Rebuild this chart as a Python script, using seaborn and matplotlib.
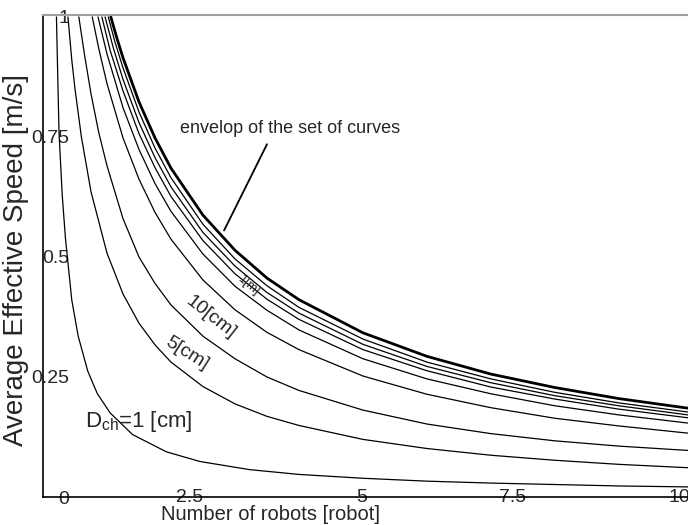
import numpy as np
import pandas as pd
import seaborn as sns
import matplotlib.pyplot as plt
from matplotlib.ticker import MultipleLocator
from matplotlib.transforms import ScaledTranslation

# values, one list pair per curve (bottom to top)
c1_x = [0.21, 0.25, 0.30, 0.35, 0.45, 0.55, 0.70, 0.85, 1.05, 1.40, 1.93, 2.45, 3.23,
        4.00, 5.00, 6.00, 7.00, 8.00, 9.00, 10.08]
c1_v = [1.00, 0.76, 0.63, 0.54, 0.41, 0.335, 0.262, 0.215, 0.175, 0.13, 0.094, 0.074, 0.057,
        0.047, 0.039, 0.033, 0.029, 0.026, 0.023, 0.021]
c2_x = [0.39, 0.45, 0.50, 0.60, 0.75, 1.00, 1.25, 1.50, 1.75, 2.00, 2.50, 3.00, 3.50,
        4.00, 5.00, 6.00, 7.00, 8.00, 9.00, 10.08]
c2_v = [1.00, 0.91, 0.85, 0.75, 0.636, 0.508, 0.423, 0.362, 0.317, 0.281, 0.23, 0.194, 0.168,
        0.149, 0.12, 0.101, 0.087, 0.0765, 0.068, 0.061]
c3_x = [0.56, 0.65, 0.75, 0.87, 1.00, 1.25, 1.50, 1.75, 2.00, 2.50, 3.00, 3.50,
        4.00, 5.00, 6.00, 7.00, 8.00, 9.00, 10.08]
c3_v = [1.00, 0.92, 0.84, 0.76, 0.69, 0.58, 0.50, 0.445, 0.40, 0.335, 0.288, 0.25,
        0.222, 0.181, 0.152, 0.132, 0.117, 0.106, 0.097]
c4_x = [0.77, 0.87, 1.00, 1.25, 1.50, 1.75, 2.00, 2.50, 3.00, 3.50,
        4.00, 5.00, 6.00, 7.00, 8.00, 9.00, 10.08]
c4_v = [1.00, 0.935, 0.861, 0.748, 0.662, 0.593, 0.537, 0.452, 0.39, 0.343,
        0.307, 0.252, 0.214, 0.186, 0.164, 0.148, 0.133]
c5_x = [0.86, 1.00, 1.25, 1.50, 1.75, 2.00, 2.50, 3.00, 3.50,
        4.00, 5.00, 6.00, 7.00, 8.00, 9.00, 10.08]
c5_v = [1.00, 0.923, 0.811, 0.724, 0.653, 0.595, 0.506, 0.439, 0.389,
        0.348, 0.288, 0.246, 0.215, 0.19, 0.171, 0.154]
c6_x = [0.92, 1.05, 1.25, 1.50, 1.75, 2.00, 2.50, 3.00, 3.50,
        4.00, 5.00, 6.00, 7.00, 8.00, 9.00, 10.08]
c6_v = [1.00, 0.93, 0.846, 0.757, 0.686, 0.626, 0.534, 0.465, 0.412,
        0.37, 0.307, 0.263, 0.229, 0.204, 0.183, 0.165]
c7_x = [0.97, 1.10, 1.25, 1.50, 1.75, 2.00, 2.50, 3.00, 3.50,
        4.00, 5.00, 6.00, 7.00, 8.00, 9.00, 10.08]
c7_v = [1.00, 0.935, 0.87, 0.78, 0.707, 0.646, 0.551, 0.481, 0.426,
        0.383, 0.318, 0.272, 0.238, 0.211, 0.19, 0.171]
c8_x = [1.02, 1.12, 1.25, 1.50, 1.75, 2.00, 2.50, 3.00, 3.50,
        4.00, 5.00, 6.00, 7.00, 8.00, 9.00, 10.08]
c8_v = [1.00, 0.95, 0.894, 0.802, 0.727, 0.665, 0.568, 0.496, 0.44,
        0.395, 0.329, 0.281, 0.246, 0.218, 0.196, 0.177]
env_x = [1.06, 1.15, 1.25, 1.50, 1.75, 2.00, 2.50, 3.00, 3.50,
         4.00, 5.00, 6.00, 7.00, 8.00, 9.00, 10.08]
env_v = [1.00, 0.958, 0.915, 0.823, 0.748, 0.685, 0.587, 0.514, 0.456,
         0.411, 0.342, 0.293, 0.256, 0.228, 0.205, 0.185]

x_ticks = [2.5, 5, 7.5, 10]
x_tick_labels = ['2.5', '5', '7.5', '10']
y_ticks = [0, 0.25, 0.5, 0.75, 1]
y_tick_labels = ['0', '0.25', '0.5', '0.75', '1']

curves = [(c1_x, c1_v), (c2_x, c2_v), (c3_x, c3_v), (c4_x, c4_v),
          (c5_x, c5_v), (c6_x, c6_v), (c7_x, c7_v), (c8_x, c8_v)]
rows = []
for k, (xs, vs) in enumerate(curves):
    for a, b in zip(xs, vs):
        rows.append({'N': a, 'v': b, 'curve': k})
df = pd.DataFrame(rows)
df_env = pd.DataFrame({'N': env_x, 'v': env_v})

sns.set_style('white')
plt.rcParams['font.family'] = ['Liberation Sans', 'DejaVu Sans']
plt.rcParams['mathtext.fontset'] = 'custom'
plt.rcParams['mathtext.rm'] = 'Liberation Sans'

fig = plt.figure(figsize=(6.88, 5.25), dpi=100)
ax = fig.add_axes([43 / 688, 28 / 525, 645 / 688, 482 / 525])

sns.lineplot(data=df, x='N', y='v', units='curve', estimator=None, sort=False,
             color='black', lw=0.9, ax=ax)
sns.lineplot(data=df_env, x='N', y='v', estimator=None, sort=False,
             color='black', lw=2.0, ax=ax)

ax.set_xlim(0, 10.08)
ax.set_ylim(0, 1.004)

ax.set_xticks(x_ticks)
ax.set_xticklabels(x_tick_labels)
ax.set_yticks(y_ticks)
ax.set_yticklabels(y_tick_labels)
ax.yaxis.set_minor_locator(MultipleLocator(0.05))
ax.tick_params(axis='x', length=0, pad=-6, labelsize=14)
ax.tick_params(axis='y', which='both', direction='in', length=3, width=0.8,
               pad=-19, labelsize=14)

# the scanned tick labels sit a little left of their ticks
for lab, dx in zip(ax.get_xticklabels(), [-13, -1, -10, -4]):
    lab.set_transform(lab.get_transform() + ScaledTranslation(dx / 100, 0, fig.dpi_scale_trans))

for s in ['left', 'bottom']:
    ax.spines[s].set_color('black')
    ax.spines[s].set_linewidth(1.2)
ax.spines['top'].set_color('#a0a0a0')
ax.spines['top'].set_linewidth(1.5)
ax.spines['right'].set_visible(False)

ax.set_xlabel('Number of robots [robot]', fontsize=14.5)
ax.set_ylabel('Average Effective Speed [m/s]', fontsize=20)
ax.xaxis.set_label_coords(0.352, -0.017)
ax.yaxis.set_label_coords(-0.021, 0.492)

# curve labels
ax.text(2.14, 0.767, 'envelop of the set of curves', fontsize=13, ha='left', va='center')
ax.annotate('', xy=(2.81, 0.55), xytext=(3.52, 0.74),
            arrowprops=dict(arrowstyle='-', lw=1.3, color='black'))
ax.text(3.20, 0.442, '1[m]', fontsize=9, rotation=-40, ha='center', va='center')
ax.text(2.625, 0.375, '10[cm]', fontsize=14, rotation=-38, ha='center', va='center')
ax.text(2.25, 0.30, '5[cm]', fontsize=14, rotation=-32, ha='center', va='center')
ax.text(0.656, 0.158, r'$\mathrm{D_{ch}}$=1 [cm]', fontsize=16, ha='left', va='center')

plt.savefig('out.png', dpi=100)
